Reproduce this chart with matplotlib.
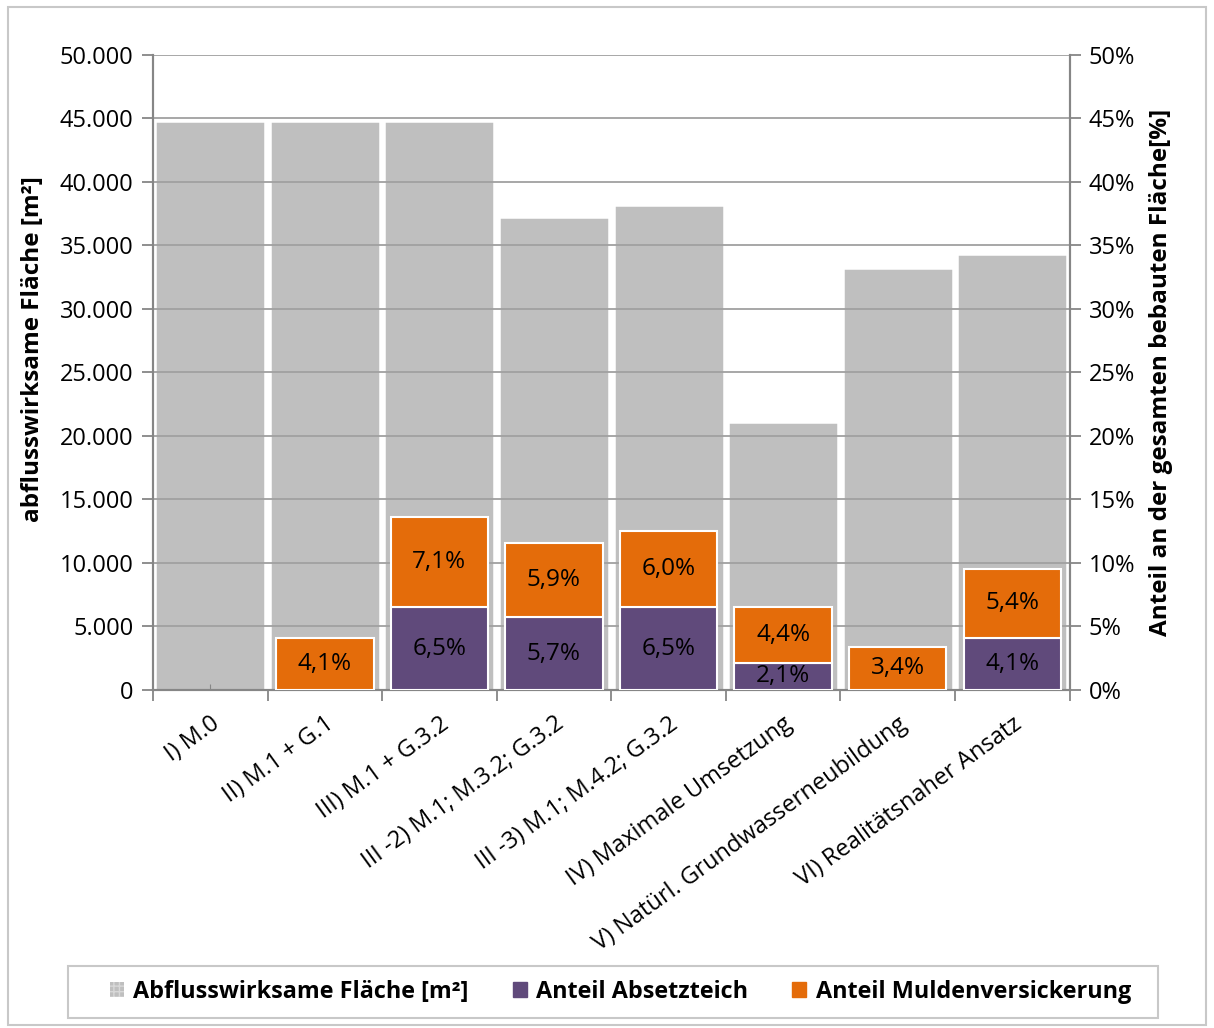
import matplotlib
matplotlib.use("Agg")
import matplotlib.pyplot as plt
from matplotlib.patches import Patch, Rectangle
from matplotlib.ticker import FuncFormatter, FixedLocator
import numpy as np

plt.rcParams['font.family'] = ['Open Sans', 'DejaVu Sans']

categories = [
    "I) M.0",
    "II) M.1 + G.1",
    "III) M.1 + G.3.2",
    "III -2) M.1; M.3.2; G.3.2",
    "III -3) M.1; M.4.2; G.3.2",
    "IV) Maximale Umsetzung",
    "V) Natürl. Grundwasserneubildung",
    "VI) Realitätsnaher Ansatz",
]
flaeche = [44800, 44800, 44800, 37250, 38200, 21100, 33250, 34350]   # m²
absetzteich = [0.0, 0.0, 6.5, 5.7, 6.5, 2.1, 0.0, 4.1]              # %
mulden = [0.0, 4.1, 7.1, 5.9, 6.0, 4.4, 3.4, 5.4]                   # %

gray = "#BFBFBF"
purple = "#604A7B"
orange = "#E46C0A"
axis_col = "#868686"
grid_col = "#A0A0A0"

fig = plt.figure(figsize=(12.14, 10.28), dpi=100)
fig.patches.append(Rectangle((0.007, 0.003), 0.986, 0.990, transform=fig.transFigure,
                             fill=False, edgecolor="#C8C8C8", linewidth=1.5))

ax = fig.add_axes([0.126, 0.329, 0.755, 0.6175])
ax2 = ax.twinx()

x = np.arange(len(categories))
ax.bar(x, flaeche, width=0.96, color=gray, edgecolor="white", linewidth=1.8, zorder=1)
ax.set_ylim(0, 50000)
ax.set_xlim(-0.5, len(categories) - 0.5)
ax.set_yticks(np.arange(0, 50001, 5000))
ax.yaxis.set_major_formatter(FuncFormatter(lambda v, p: f"{int(v):,}".replace(",", ".")))
ax.grid(axis="y", color=grid_col, linewidth=1.3, zorder=2)
ax.set_axisbelow(False)

abs_arr = np.array(absetzteich)
mul_arr = np.array(mulden)
m1 = abs_arr > 0
m2 = mul_arr > 0
ax2.bar(x[m1], abs_arr[m1], width=0.85, color=purple, edgecolor="white", linewidth=1.5, zorder=3)
ax2.bar(x[m2], mul_arr[m2], width=0.85, bottom=abs_arr[m2], color=orange, edgecolor="white",
        linewidth=1.5, zorder=3)
ax2.set_ylim(0, 50)
ax2.set_yticks(np.arange(0, 51, 5))
ax2.yaxis.set_major_formatter(FuncFormatter(lambda v, p: f"{int(v)}%"))

def pct(v):
    return f"{v:.1f}%".replace(".", ",")

for i in range(len(categories)):
    if absetzteich[i] > 0:
        ax2.text(x[i], absetzteich[i] / 2, pct(absetzteich[i]), ha="center", va="center",
                 fontsize=17.5, color="black", zorder=5)
    if mulden[i] > 0:
        ax2.text(x[i], absetzteich[i] + mulden[i] / 2, pct(mulden[i]), ha="center",
                 va="center", fontsize=17.5, color="black", zorder=5)

# category labels at bar centres, tick marks at the category boundaries
ax.xaxis.set_major_locator(FixedLocator(x))
ax.set_xticklabels(categories, rotation=36, ha="right", rotation_mode="anchor", fontsize=17)
ax.xaxis.set_minor_locator(FixedLocator(np.arange(-0.5, len(categories), 1.0)))
ax.tick_params(axis="x", which="major", direction="in", length=4, color=axis_col, pad=16)
ax.tick_params(axis="x", which="minor", direction="out", length=8, color=axis_col, width=1.3)
ax.tick_params(axis="y", which="major", direction="out", length=8, color=axis_col, width=1.3,
               labelsize=17, pad=6)
ax2.tick_params(axis="y", which="major", direction="out", length=8, color=axis_col, width=1.3,
                labelsize=17, pad=6)

for a in (ax, ax2):
    a.spines["top"].set_visible(False)
    for s in ("left", "right", "bottom"):
        a.spines[s].set_color(axis_col)
        a.spines[s].set_linewidth(1.5)

ax.set_ylabel("abflusswirksame Fläche [m²]", fontsize=17.5, fontweight="bold")
ax.yaxis.set_label_coords(-0.118, 0.537)
ax2.set_ylabel("Anteil an der gesamten bebauten Fläche[%]", fontsize=17.5, fontweight="bold",
               labelpad=10)

# legend frame spanning the bottom of the figure
fig.patches.append(Rectangle((0.056, 0.0097), 0.898, 0.0506, transform=fig.transFigure,
                             fill=True, facecolor="white", edgecolor="#C8C8C8", linewidth=1.5))
handles = [
    Patch(facecolor=gray, edgecolor="#D8D8D8", hatch="+++", linewidth=0),
    Patch(facecolor=purple, edgecolor=purple),
    Patch(facecolor=orange, edgecolor=orange),
]
labels = ["Abflusswirksame Fläche [m²]", "Anteil Absetzteich", "Anteil Muldenversickerung"]
leg = fig.legend(handles, labels, loc="center", bbox_to_anchor=(0.511, 0.035),
                 ncol=3, frameon=False,
                 prop={"weight": "bold", "size": 16.8}, handlelength=0.6, handleheight=0.6,
                 handletextpad=0.4, columnspacing=1.9, borderaxespad=0)

fig.savefig("out.png", dpi=100)
